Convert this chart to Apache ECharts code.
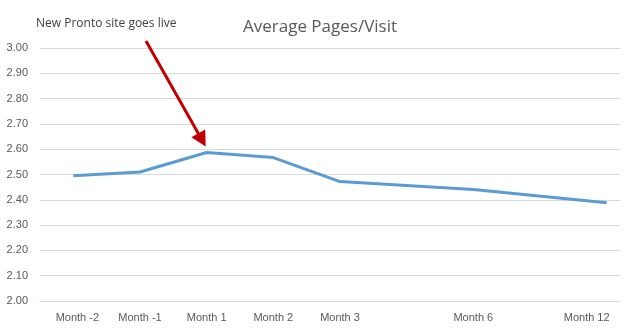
<!DOCTYPE html>
<html><head><meta charset="utf-8">
<script src="https://cdn.jsdelivr.net/npm/echarts@6/dist/echarts.min.js"></script>
<style>html,body{margin:0;padding:0;background:#fff}#c{width:640px;height:333px}</style>
</head><body><div id="c"></div>
<script>
var categories = ['Month -2','Month -1','Month 1','Month 2','Month 3','','Month 6','','Month 12'];
var pagesPerVisit = [2.495, 2.51, 2.587, 2.567, 2.472, null, 2.441, null, 2.388];
var yTicks = [2.0, 2.1, 2.2, 2.3, 2.4, 2.5, 2.6, 2.7, 2.8, 2.9, 3.0];
var labelIdx = [0,1,2,3,4,6,8];
var annotationText = 'New Pronto site goes live';

var chart = echarts.init(document.getElementById('c'));
var data = [];
categories.forEach(function(c,i){ if (pagesPerVisit[i] !== null) data.push([i, pagesPerVisit[i]]); });

chart.setOption({
  animation: false,
  title: {
    text: 'Average Pages/Visit', left: 'center', top: 14,
    textStyle: {color: '#595959', fontSize: 17, fontWeight: 'normal', fontFamily: 'Open Sans'}
  },
  grid: {left: 40, right: 20, top: 48, bottom: 32},
  xAxis: {
    type: 'value', min: -0.5, max: 8.2,
    axisLine: {show: true, lineStyle: {color: '#d9d9d9', width: 1}},
    axisTick: {show: false},
    splitLine: {show: false},
    axisLabel: {
      customValues: labelIdx,
      color: '#595959', fontSize: 11, fontFamily: 'Liberation Sans', margin: 11,
      formatter: function(v){
        var t = categories[Math.round(v)] || '';
        if (Math.round(v) === categories.length - 1) return '{r|' + t + '}';
        if (Math.round(v) === 0) return '{l|' + t + '}';
        return t;
      },
      rich: {
        r: {padding: [0, 40, 0, 0], color: '#595959', fontSize: 11, fontFamily: 'Liberation Sans'},
        l: {padding: [0, 0, 0, 8], color: '#595959', fontSize: 11, fontFamily: 'Liberation Sans'}
      }
    }
  },
  yAxis: {
    type: 'value', min: yTicks[0], max: yTicks[yTicks.length-1], interval: 0.1,
    axisLine: {show: false}, axisTick: {show: false},
    splitLine: {lineStyle: {color: '#d9d9d9', width: 1}},
    axisLabel: {color: '#595959', fontSize: 11, fontFamily: 'Liberation Sans', margin: 12,
      formatter: function(v){ return v.toFixed(2); }}
  },
  series: [{
    type: 'line', data: data, symbol: 'none', connectNulls: true,
    lineStyle: {color: '#5B9BD5', width: 3}
  }]
});

// annotation arrow pointing at Month 1 value
var tip = chart.convertToPixel({gridIndex: 0}, [2, pagesPerVisit[2]]);
tip = [tip[0] - 1, tip[1] - 6];
var start = [146, 41];
var dx = tip[0] - start[0], dy = tip[1] - start[1];
var len = Math.sqrt(dx*dx + dy*dy), ux = dx/len, uy = dy/len;
var headLen = 15, headW = 8;
var base = [tip[0] - ux*headLen, tip[1] - uy*headLen];
chart.setOption({
  graphic: [
    {type: 'text', left: 36, top: 18, style: {text: annotationText, fill: '#404040', font: '12px "Open Sans"'}},
    {type: 'line', shape: {x1: start[0], y1: start[1], x2: base[0] + ux, y2: base[1] + uy}, style: {stroke: '#C00000', lineWidth: 3}},
    {type: 'polygon', shape: {points: [tip, [base[0] - uy*headW, base[1] + ux*headW], [base[0] + uy*headW, base[1] - ux*headW]]}, style: {fill: '#C00000'}}
  ]
});
</script>
</body></html>
